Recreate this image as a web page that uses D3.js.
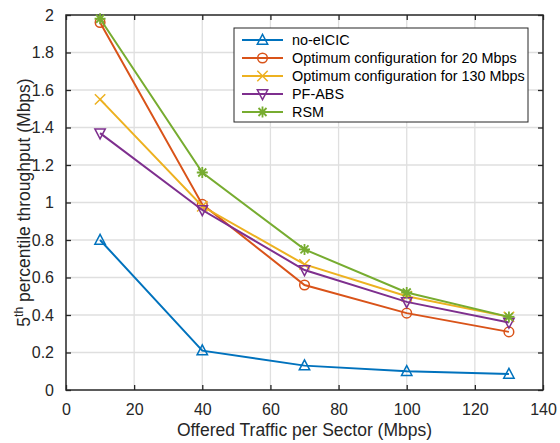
<!DOCTYPE html>
<html>
<head>
<meta charset="utf-8">
<script src="https://cdn.jsdelivr.net/npm/d3@7"></script>
<style>
  body { margin: 0; background: #fff; }
  svg { display: block; font-family: "Liberation Sans", Arial, sans-serif; }
</style>
</head>
<body>
<svg id="chart" width="560" height="443"></svg>
<script>
// Offered traffic per sector (Mbps)
const traffic = [10, 40, 70, 100, 130];

// 5th percentile throughput (Mbps) per scheme
const noEicic   = [0.80, 0.21, 0.13, 0.10, 0.085];
const opt20     = [1.96, 0.99, 0.56, 0.41, 0.31];
const opt130    = [1.55, 0.98, 0.67, 0.50, 0.39];
const pfAbs     = [1.37, 0.96, 0.64, 0.47, 0.36];
const rsm       = [1.98, 1.16, 0.75, 0.52, 0.39];

const seriesNames = ["no-eICIC", "Optimum configuration for 20 Mbps",
                     "Optimum configuration for 130 Mbps", "PF-ABS", "RSM"];
const seriesValues = [noEicic, opt20, opt130, pfAbs, rsm];
const seriesColors = ["#0072BD", "#D95319", "#EDB120", "#7E2F8E", "#77AC30"];
const seriesMarkers = ["triUp", "circle", "cross", "triDown", "asterisk"];

const xTicks = [0, 20, 40, 60, 80, 100, 120, 140];
const yTicks = [0, 0.2, 0.4, 0.6, 0.8, 1, 1.2, 1.4, 1.6, 1.8, 2];

const svg = d3.select("#chart");
const plotL = 66, plotR = 543, plotT = 15, plotB = 390;

const x = d3.scaleLinear().domain([0, 140]).range([plotL, plotR]);
const y = d3.scaleLinear().domain([0, 2]).range([plotB, plotT]);

// grid
const grid = svg.append("g");
grid.selectAll(".gx").data(xTicks.slice(1, -1)).join("line")
  .attr("x1", d => x(d)).attr("x2", d => x(d))
  .attr("y1", plotT).attr("y2", plotB)
  .attr("stroke", "#dfdfdf").attr("stroke-width", 1.3);
grid.selectAll(".gy").data(yTicks.slice(1, -1)).join("line")
  .attr("y1", d => y(d)).attr("y2", d => y(d))
  .attr("x1", plotL).attr("x2", plotR)
  .attr("stroke", "#dfdfdf").attr("stroke-width", 1.3);

// axes (ticks pointing inward, mirrored on top/right)
const tickLen = 5;
const axisColor = "#262626";
const fmtY = d => d3.format("~g")(d);

const xAxis = svg.append("g").attr("transform", `translate(0,${plotB})`)
  .call(d3.axisBottom(x).tickValues(xTicks).tickSize(-tickLen).tickPadding(14).tickFormat(d3.format("d")));
const xAxisTop = svg.append("g").attr("transform", `translate(0,${plotT})`)
  .call(d3.axisTop(x).tickValues(xTicks).tickSize(-tickLen).tickFormat(""));
const yAxis = svg.append("g").attr("transform", `translate(${plotL},0)`)
  .call(d3.axisLeft(y).tickValues(yTicks).tickSize(-tickLen).tickPadding(12).tickFormat(fmtY));
const yAxisRight = svg.append("g").attr("transform", `translate(${plotR},0)`)
  .call(d3.axisRight(y).tickValues(yTicks).tickSize(-tickLen).tickFormat(""));

[xAxis, xAxisTop, yAxis, yAxisRight].forEach(g => {
  g.select(".domain").remove();
  g.selectAll(".tick line").attr("stroke", axisColor).attr("stroke-width", 1.3);
  g.selectAll(".tick text").attr("fill", "#262626").style("font-size", "16px")
    .style("font-family", "'Liberation Sans', Arial, sans-serif");
});

svg.append("rect").attr("x", plotL).attr("y", plotT)
  .attr("width", plotR - plotL).attr("height", plotB - plotT)
  .attr("fill", "none").attr("stroke", axisColor).attr("stroke-width", 1.5);

// axis titles
svg.append("text").attr("x", (plotL + plotR) / 2).attr("y", 436)
  .attr("text-anchor", "middle").attr("fill", "#262626")
  .style("font-size", "17.5px").text("Offered Traffic per Sector (Mbps)");

const yt = svg.append("text")
  .attr("transform", `translate(30,${(plotT + plotB) / 2}) rotate(-90)`)
  .attr("text-anchor", "middle").attr("fill", "#262626").style("font-size", "17.5px");
yt.append("tspan").text("5");
yt.append("tspan").attr("dy", -7).style("font-size", "12px").text("th");
yt.append("tspan").attr("dy", 7).text(" percentile throughput (Mbps)");

// marker drawing
function drawMarker(g, type, color, cx, cy) {
  const s = 5.2;
  const base = g.append("g").attr("transform", `translate(${cx},${cy})`)
    .attr("fill", "none").attr("stroke", color).attr("stroke-width", 1.5);
  if (type === "triUp") {
    base.append("path").attr("d", `M0,${-s - 0.5}L${s},${s - 1}L${-s},${s - 1}Z`);
  } else if (type === "triDown") {
    base.append("path").attr("d", `M0,${s + 0.5}L${s},${-s + 1}L${-s},${-s + 1}Z`);
  } else if (type === "circle") {
    base.append("circle").attr("r", 4.8);
  } else if (type === "cross") {
    base.append("path").attr("d", `M${-s},${-s}L${s},${s}M${-s},${s}L${s},${-s}`);
  } else if (type === "asterisk") {
    const a = 5.5, b = 4;
    base.attr("stroke-width", 1.8).append("path")
      .attr("d", `M0,${-a}V${a}M${-a},0H${a}M${-b},${-b}L${b},${b}M${-b},${b}L${b},${-b}`);
  }
}

// series lines + markers
const line = d3.line().x((d, i) => x(traffic[i])).y(d => y(d));
seriesValues.forEach((vals, k) => {
  const g = svg.append("g");
  g.append("path").datum(vals).attr("d", line)
    .attr("fill", "none").attr("stroke", seriesColors[k]).attr("stroke-width", 2);
  vals.forEach((v, i) => drawMarker(g, seriesMarkers[k], seriesColors[k], x(traffic[i]), y(v)));
});

// legend
const lg = svg.append("g");
lg.append("rect").attr("x", 234).attr("y", 28).attr("width", 294).attr("height", 94)
  .attr("fill", "#fff").attr("stroke", "#262626").attr("stroke-width", 1);
seriesNames.forEach((name, k) => {
  const cy = 40 + k * 18;
  lg.append("line").attr("x1", 242).attr("x2", 283).attr("y1", cy).attr("y2", cy)
    .attr("stroke", seriesColors[k]).attr("stroke-width", 2);
  drawMarker(lg, seriesMarkers[k], seriesColors[k], 262.5, cy);
  lg.append("text").attr("x", 292).attr("y", cy + 5).attr("fill", "#000")
    .style("font-size", "14.4px").text(name);
});
</script>
</body>
</html>
